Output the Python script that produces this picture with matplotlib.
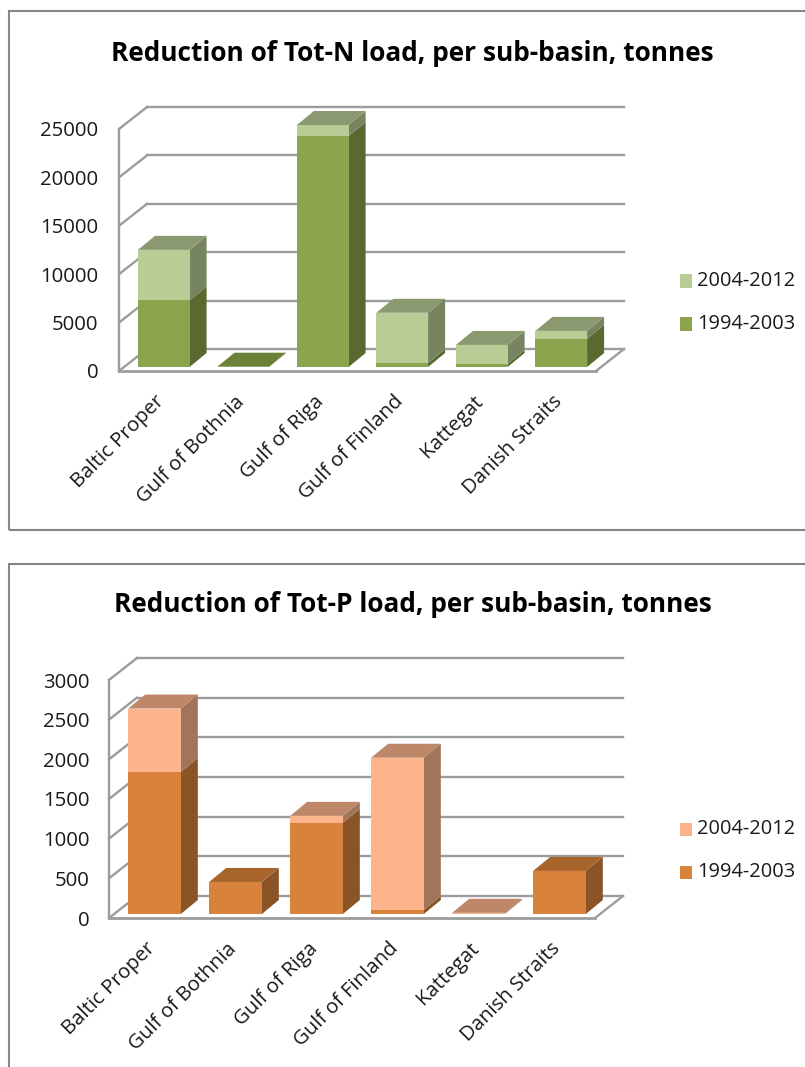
import matplotlib
matplotlib.use('Agg')
from matplotlib import pyplot as plt
from matplotlib.lines import Line2D
from matplotlib.patches import Rectangle
from matplotlib.transforms import IdentityTransform, ScaledTranslation

plt.rcParams['font.family'] = ['Open Sans', 'DejaVu Sans']

# values
basins = ['Baltic Proper', 'Gulf of Bothnia', 'Gulf of Riga', 'Gulf of Finland', 'Kattegat', 'Danish Straits']
periods = ['1994-2003', '2004-2012']

n_early = [6870, 30, 23850, 400, 300, 2900]
n_late = [5230, 0, 1150, 5200, 1980, 830]
n_ticks = [0, 5000, 10000, 15000, 20000, 25000]

p_early = [1790, 404, 1149, 50, 0, 543]
p_late = [800, 0, 88, 1920, 15, 0]
p_ticks = [0, 500, 1000, 1500, 2000, 2500, 3000]

W = 805
H = 1067
dpi = 100
GRID = '#9c9c9c'
FRAME = '#868686'
TEXT = '#1a1a1a'


def shift(fig, ax, px, py):
    # data coordinates moved by some pixels, y counted upwards
    return ax.transData + ScaledTranslation(px / dpi, py / dpi, fig.dpi_scale_trans)


def box(fig, ax, x, y0, y1, w, face, side, top, bx, by, dx, dy, order):
    t0 = shift(fig, ax, bx, by)
    t1 = shift(fig, ax, bx + dx, by + dy)
    inv = ax.transData.inverted()
    l = x - w / 2
    r = x + w / 2
    rb0, rb1 = inv.transform(t1.transform((r, y0))), inv.transform(t1.transform((r, y1)))
    lb1 = inv.transform(t1.transform((l, y1)))
    rf0, rf1 = inv.transform(t0.transform((r, y0))), inv.transform(t0.transform((r, y1)))
    lf1 = inv.transform(t0.transform((l, y1)))
    ax.fill([rf0[0], rb0[0], rb1[0], rf1[0]], [rf0[1], rb0[1], rb1[1], rf1[1]],
            color=side, lw=0, zorder=order, clip_on=False)
    if top is not None:
        ax.fill([lf1[0], rf1[0], rb1[0], lb1[0]], [lf1[1], rf1[1], rb1[1], lb1[1]],
                color=top, lw=0, zorder=order, clip_on=False)
    ax.add_patch(Rectangle((l, y0), w, y1 - y0, color=face, lw=0, zorder=order + 0.1,
                           transform=t0, clip_on=False))


def depth_line(ax, back, x, v):
    p0 = ax.transData.transform((x, v))
    p1 = back.transform((x, v))
    ax.add_line(Line2D([p0[0], p1[0]], [p0[1], p1[1]], color=GRID, lw=1.7, zorder=1,
                       transform=IdentityTransform(), clip_on=False))


def chart(fig, rect, title, title_xy, early, late, ticks, ymax, colors, legend_y, ypad):
    left, top, width, height = rect
    ax = fig.add_axes([left / W, 1 - (top + height) / H, width / W, height / H])
    ax.set_xlim(0, len(basins))
    ax.set_ylim(0, ymax)
    ax.patch.set_visible(False)
    for s in ax.spines.values():
        s.set_visible(False)

    # walls and floor of the 3d box
    back = shift(fig, ax, 28, 22)
    for v in ticks:
        ax.plot([0, len(basins)], [v, v], color=GRID, lw=1.7, transform=back, zorder=1, clip_on=False)
        depth_line(ax, back, 0, v)
    depth_line(ax, back, len(basins), 0)
    ax.plot([0, 0], [0, ymax], color=GRID, lw=1.7, zorder=1, clip_on=False)
    ax.plot([0, len(basins)], [0, 0], color=GRID, lw=2, zorder=1.5, clip_on=False)

    for i in range(len(basins)):
        x = i + 0.5
        e = early[i]
        l = late[i]
        if e > 0:
            box(fig, ax, x, 0, e, 0.65, colors['early'], colors['early_side'],
                colors['early_top'] if l == 0 else None, 5, 4, 17, 14, 3 + i)
        if l > 0:
            box(fig, ax, x, e, e + l, 0.65, colors['late'], colors['late_side'],
                colors['late_top'], 5, 4, 17, 14, 3 + i)

    ax.set_xticks([i + 0.5 for i in range(len(basins))])
    ax.set_xticklabels(basins, rotation=45, ha='right', rotation_mode='anchor', fontsize=14.7, color=TEXT)
    ax.set_yticks(ticks)
    ax.set_yticklabels([str(v) for v in ticks], fontsize=14.7, color=TEXT)
    ax.tick_params(length=0, axis='y', pad=ypad)
    ax.tick_params(length=0, axis='x', pad=15)
    nudge = ScaledTranslation(-4 / dpi, 0, fig.dpi_scale_trans)
    for lab in ax.get_xticklabels():
        lab.set_transform(lab.get_transform() + nudge)

    fig.text(title_xy[0] / W, 1 - title_xy[1] / H, title, fontsize=18.95, fontweight='bold',
             ha='center', va='center', color='black')

    # legend, drawn by hand so the swatches sit where they do in the picture
    for k, (lab, col) in enumerate([(periods[1], colors['late']), (periods[0], colors['early'])]):
        yy = legend_y + k * 43
        fig.patches.append(Rectangle((680 / W, 1 - (yy + 6.5) / H), 12 / W, 13 / H, color=col, lw=0,
                                     transform=fig.transFigure, figure=fig))
        fig.text(697 / W, 1 - yy / H, lab, fontsize=14.4, va='center', ha='left', color=TEXT)
    return ax


fig = plt.figure(figsize=(W / dpi, H / dpi), dpi=dpi)
fig.patches.append(Rectangle((9 / W, 1 - 530 / H), 900 / W, 519 / H, fill=False, ec=FRAME, lw=1.5,
                             transform=fig.transFigure, figure=fig))
fig.patches.append(Rectangle((9 / W, -0.05), 900 / W, 1 - 564 / H + 0.05, fill=False, ec=FRAME, lw=1.5,
                             transform=fig.transFigure, figure=fig))

greens = {'early': '#8aa54e', 'early_side': '#59692f', 'early_top': '#6b8038',
          'late': '#b9cc95', 'late_side': '#76845f', 'late_top': '#8a9970'}
oranges = {'early': '#d9823b', 'early_side': '#8a5426', 'early_top': '#a7652c',
           'late': '#fbb48c', 'late_side': '#a0755a', 'late_top': '#bd8768'}

chart(fig, (119, 129, 477, 242), 'Reduction of Tot-N load, per sub-basin, tonnes', (412, 54),
      n_early, n_late, n_ticks, 25000, greens, 281, 15)
chart(fig, (109, 680, 486, 238), 'Reduction of Tot-P load, per sub-basin, tonnes', (413, 605),
      p_early, p_late, p_ticks, 3000, oranges, 829, 14)

fig.savefig('out.png', dpi=dpi)
